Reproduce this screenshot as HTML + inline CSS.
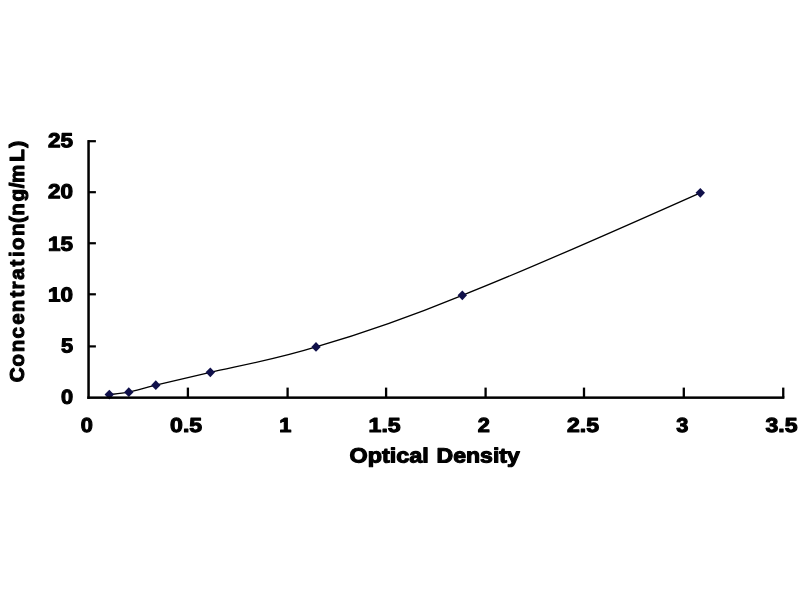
<!DOCTYPE html>
<html><head><meta charset="utf-8"><title>Standard Curve</title>
<style>
html,body{margin:0;padding:0;background:#fff;}
body{width:800px;height:600px;overflow:hidden;}
svg{display:block;}
text{font-family:"Liberation Sans",Arial,sans-serif;font-weight:bold;fill:#000;stroke:#000;stroke-width:1.1px;stroke-linejoin:round;}
</style></head><body>
<svg width="800" height="600" viewBox="0 0 800 600">
<rect width="800" height="600" fill="#ffffff"/>

<path d="M109.30,394.60 C112.55,394.20 121.05,393.77 128.80,392.20 C136.55,390.63 142.22,388.52 155.80,385.20 C169.38,381.88 183.60,378.68 210.30,372.30 C237.00,366.12 274.00,359.93 316.00,346.90 C358.00,334.67 398.25,321.58 462.30,295.30 C526.35,270.22 660.63,210.48 700.30,192.80" fill="none" stroke="#000" stroke-width="1.3"/>
<g fill="#10104a">
<path d="M109.3,389.7 l4.7,4.9 l-4.7,4.9 l-4.7,-4.9 z"/>
<path d="M128.8,387.3 l4.7,4.9 l-4.7,4.9 l-4.7,-4.9 z"/>
<path d="M155.8,380.3 l4.7,4.9 l-4.7,4.9 l-4.7,-4.9 z"/>
<path d="M210.3,367.4 l4.7,4.9 l-4.7,4.9 l-4.7,-4.9 z"/>
<path d="M316.0,342.0 l4.7,4.9 l-4.7,4.9 l-4.7,-4.9 z"/>
<path d="M462.3,290.4 l4.7,4.9 l-4.7,4.9 l-4.7,-4.9 z"/>
<path d="M700.3,187.9 l4.7,4.9 l-4.7,4.9 l-4.7,-4.9 z"/>
</g>
<g fill="#000">
<rect x="87.3" y="140.1" width="2.5" height="258.8"/>
<rect x="87.3" y="396.4" width="697.1" height="2.5"/>
<rect x="88" y="140.10" width="7.9" height="2.2"/>
<rect x="88" y="191.10" width="7.9" height="2.2"/>
<rect x="88" y="242.15" width="7.9" height="2.2"/>
<rect x="88" y="293.20" width="7.9" height="2.2"/>
<rect x="88" y="345.30" width="7.9" height="2.2"/>
<rect x="186.75" y="387.6" width="2.3" height="10"/>
<rect x="286.45" y="387.6" width="2.3" height="10"/>
<rect x="384.95" y="387.6" width="2.3" height="10"/>
<rect x="484.45" y="387.6" width="2.3" height="10"/>
<rect x="582.85" y="387.6" width="2.3" height="10"/>
<rect x="682.65" y="387.6" width="2.3" height="10"/>
<rect x="782.10" y="387.6" width="2.3" height="10"/>
</g>
<text transform="translate(73.0,147.15) rotate(0.05)" font-size="20.2" text-anchor="end" textLength="25.0" lengthAdjust="spacingAndGlyphs">25</text>
<text transform="translate(73.0,198.16) rotate(0.05)" font-size="20.2" text-anchor="end" textLength="25.0" lengthAdjust="spacingAndGlyphs">20</text>
<text transform="translate(73.0,250.67) rotate(0.05)" font-size="20.2" text-anchor="end" textLength="25.0" lengthAdjust="spacingAndGlyphs">15</text>
<text transform="translate(73.0,301.53) rotate(0.05)" font-size="20.2" text-anchor="end" textLength="25.0" lengthAdjust="spacingAndGlyphs">10</text>
<text transform="translate(73.0,352.44) rotate(0.05)" font-size="20.2" text-anchor="end" textLength="12.1" lengthAdjust="spacingAndGlyphs">5</text>
<text transform="translate(73.0,403.85) rotate(0.05)" font-size="20.2" text-anchor="end" textLength="12.1" lengthAdjust="spacingAndGlyphs">0</text>
<text transform="translate(86.85,432.05) rotate(0.05)" font-size="20.2" text-anchor="middle" textLength="12.1" lengthAdjust="spacingAndGlyphs">0</text>
<text transform="translate(186.09,432.05) rotate(0.05)" font-size="20.2" text-anchor="middle" textLength="32.0" lengthAdjust="spacingAndGlyphs">0.5</text>
<text transform="translate(285.34,432.05) rotate(0.05)" font-size="20.2" text-anchor="middle" textLength="12.1" lengthAdjust="spacingAndGlyphs">1</text>
<text transform="translate(384.58,432.05) rotate(0.05)" font-size="20.2" text-anchor="middle" textLength="32.0" lengthAdjust="spacingAndGlyphs">1.5</text>
<text transform="translate(483.82,432.05) rotate(0.05)" font-size="20.2" text-anchor="middle" textLength="12.1" lengthAdjust="spacingAndGlyphs">2</text>
<text transform="translate(583.06,432.05) rotate(0.05)" font-size="20.2" text-anchor="middle" textLength="32.0" lengthAdjust="spacingAndGlyphs">2.5</text>
<text transform="translate(682.31,432.05) rotate(0.05)" font-size="20.2" text-anchor="middle" textLength="12.1" lengthAdjust="spacingAndGlyphs">3</text>
<text transform="translate(781.55,432.05) rotate(0.05)" font-size="20.2" text-anchor="middle" textLength="32.0" lengthAdjust="spacingAndGlyphs">3.5</text>
<g style="stroke-width:1.6px">
<text transform="translate(0,462.2) rotate(0.03)" font-size="20.7"><tspan x="349.6" textLength="79.1" lengthAdjust="spacingAndGlyphs">Optical</tspan> <tspan x="436.6" textLength="83.2" lengthAdjust="spacingAndGlyphs">Density</tspan></text>
<text transform="translate(23.6,0) rotate(-90)" x="-382.23 -366.59 -352.13 -338.48 -324.63 -312.18 -297.58 -289.53 -279.85 -266.43 -257.10 -249.99 -235.98 -223.03 -215.63 -201.53 -188.36 -183.00 -161.66 -147.78" y="0" font-size="20.6">Concentration(ng/mL)</text>
</g>
</svg></body></html>
